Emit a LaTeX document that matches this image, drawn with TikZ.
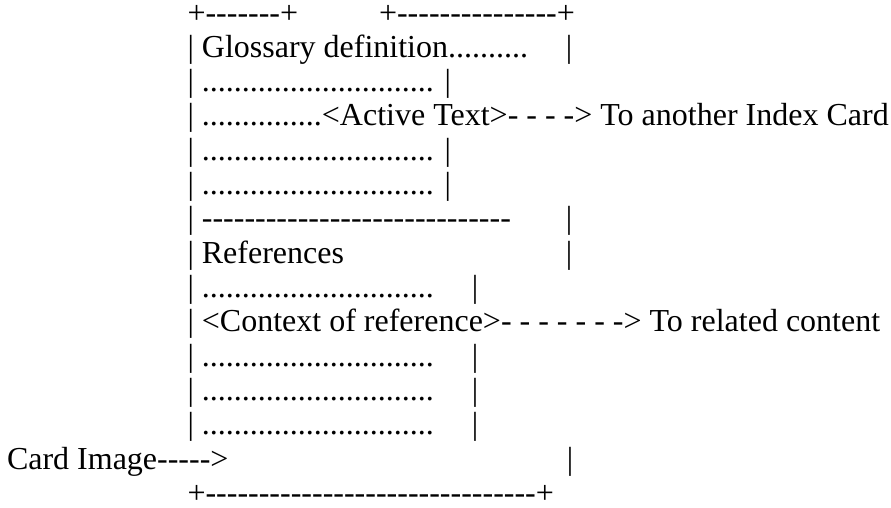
\documentclass[tikz,border=0pt]{standalone}
\usepackage{fontspec}
\setmainfont{Liberation Serif}
\ExplSyntaxOn
\cs_new:Npn \repch #1#2 { \prg_replicate:nn {#1} {#2} }
\ExplSyntaxOff
% runs of dots and hyphens (hyphens kept apart so no dash ligatures form)
\newcommand\dotrun[1]{\repch{#1}{.}}
\newcommand\dashrun[1]{\repch{#1}{-{}}}

\begin{document}
\begin{tikzpicture}[x=1pt,y=-1pt,
  art/.style={inner sep=0pt,outer sep=0pt,text=black,
    font=\fontsize{32}{34}\selectfont},
  txt/.style={art,anchor=base west},
  edge/.style={txt,text height=17pt,text depth=0pt},
  bar/.style={art,anchor=base}]
\useasboundingbox (0,0) rectangle (891,508);

% top edge
\node[edge] (t1) at (187.5,23.1) {+\dashrun{7}+};
\node[edge] (t2) at (379,23.1)   {+\dashrun{15}+};

% glossary section
\node[txt] (g1) at (187.5,57.4)  {| Glossary definition\dotrun{10}};
\node[bar] (g1r) at (569,57.4)   {|};
\node[txt] (g2) at (187.5,91.7)  {| \dotrun{29} |};
\node[txt] (g3) at (187.5,126.0) {| \dotrun{15}<Active Text>- - - -> To another Index Card};
\node[txt] (g4) at (187.5,160.3) {| \dotrun{29} |};
\node[txt] (g5) at (187.5,194.6) {| \dotrun{29} |};

% separator
\node[txt] (s1) at (187.5,228.9) {| \dashrun{29}};
\node[bar] (s1r) at (569,228.9)  {|};

% references section
\node[txt] (r0) at (187.5,263.2) {| References};
\node[bar] (r0r) at (569,263.2)  {|};
\node[txt] (r1) at (187.5,297.5) {| \dotrun{29}};
\node[bar] (r1r) at (475,297.5)  {|};
\node[txt] (r2) at (187.5,331.8) {| <Context of reference>- - - - - - -> To related content};
\node[txt] (r3) at (187.5,366.1) {| \dotrun{29}};
\node[bar] (r3r) at (475,366.1)  {|};
\node[txt] (r4) at (187.5,400.4) {| \dotrun{29}};
\node[bar] (r4r) at (475,400.4)  {|};
\node[txt] (r5) at (187.5,434.7) {| \dotrun{29}};
\node[bar] (r5r) at (475,434.7)  {|};

% card image pointer
\node[txt] (ci) at (7,469.0)     {Card Image\dashrun{5}>};
\node[bar] (cir) at (570,469.0)  {|};

% bottom edge
\node[edge] (b1) at (187.5,503.3) {+\dashrun{31}+};
\end{tikzpicture}
\end{document}
